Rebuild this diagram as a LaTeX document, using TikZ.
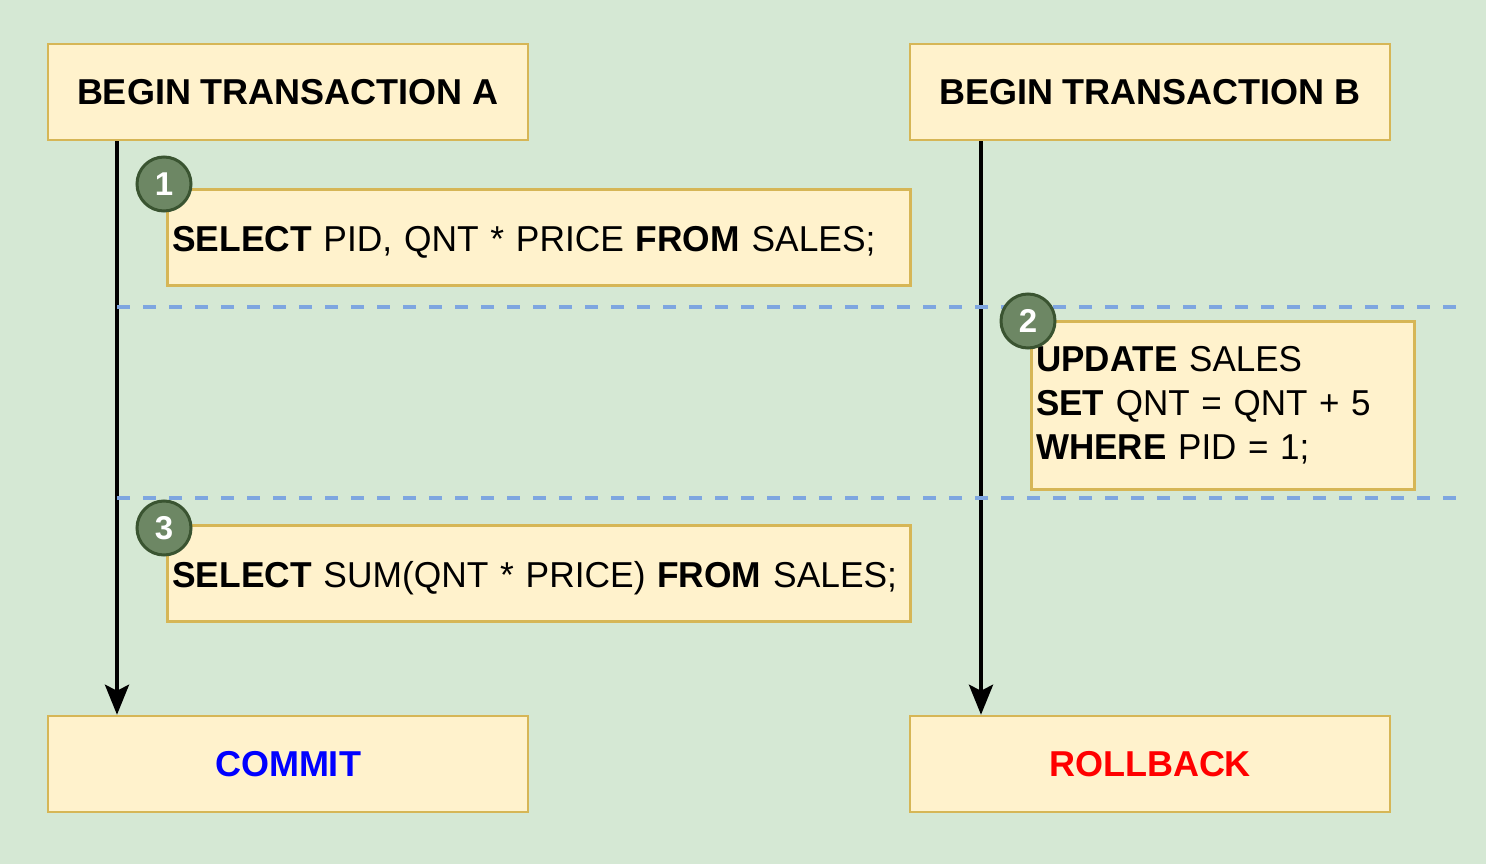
\documentclass[tikz,border=0pt]{standalone}
\usepackage{fontspec}
\setmainfont{Liberation Sans}
\usetikzlibrary{arrows.meta}
\definecolor{bg}{HTML}{D5E8D4}
\definecolor{boxfill}{HTML}{FFF2CC}
\definecolor{boxdraw}{HTML}{D6B656}
\definecolor{circfill}{HTML}{6D8764}
\definecolor{circdraw}{HTML}{3A5431}
\definecolor{dashcol}{HTML}{7EA6E0}
\newcommand\myline[1]{\raisebox{-3pt}{\scalebox{0.982}[1]{#1}}}
\newcommand\myrow[1]{\scalebox{0.972}[1]{#1}}
\begin{document}
\begin{tikzpicture}[x=1pt,y=-1pt,
  box/.style={draw=boxdraw,fill=boxfill,line width=2.5pt,inner sep=0pt,
    font=\fontsize{36}{44}\selectfont},
  txbox/.style={box,inner xsep=5pt,align=left,anchor=north west},
  badge/.style={circle,draw=circdraw,fill=circfill,line width=3pt,minimum size=54pt,
    inner sep=0pt,text=white,font=\fontsize{33}{33}\selectfont\bfseries},
  sep/.style={draw=dashcol,line width=3.5pt,dash pattern=on 13pt off 13pt},
  life/.style={line width=4pt,-{Stealth[length=30pt,width=24pt,inset=6pt]}}
]
\fill[bg] (0,0) rectangle (1486,864);
\useasboundingbox (0,0) rectangle (1486,864);

\node[box,minimum width=480pt,minimum height=96pt] (ta) at (288,92) {\bfseries BEGIN TRANSACTION A};
\node[box,minimum width=480pt,minimum height=96pt] (tb) at (1150,92) {\bfseries BEGIN TRANSACTION B};
\node[box,minimum width=480pt,minimum height=96pt] (commit) at (288,764) {\bfseries\color[HTML]{0000FF}COMMIT};
\node[box,minimum width=480pt,minimum height=96pt] (rollback) at (1150,764) {\bfseries\color[HTML]{FF0000}ROLLBACK};

\coordinate (xa) at (117,0);
\coordinate (xb) at (981,0);
\coordinate (d1l) at (117,307);
\coordinate (d1r) at (1456,307);
\coordinate (d2l) at (117,498);
\coordinate (d2r) at (1456,498);

\draw[life] (ta.south -| xa) -- (commit.north -| xa);
\draw[life] (tb.south -| xb) -- (rollback.north -| xb);

\draw[sep] (d1l) -- (d1r);
\draw[sep] (d2l) -- (d2r);

\node[txbox,text width=733pt,minimum height=96pt,text depth=0pt] (q1) at (166,188)
  {\myline{\textbf{SELECT} PID, QNT * PRICE \textbf{FROM} SALES;}};
\node[txbox,text width=373pt,minimum height=168pt] (q2) at (1030,320)
  {\myrow{\textbf{UPDATE} SALES}\\\myrow{\textbf{SET} QNT = QNT + 5}\\\myrow{\textbf{WHERE} PID = 1;}};
\node[txbox,text width=733pt,minimum height=96pt,text depth=0pt] (q3) at (166,524)
  {\myline{\textbf{SELECT} SUM(QNT * PRICE) \textbf{FROM} SALES;}};

\node[badge] (c1) at ([shift={(-2,-4)}]q1.north west) {1};
\node[badge] (c2) at ([shift={(-2,1)}]q2.north west) {2};
\node[badge] (c3) at ([shift={(-2,4)}]q3.north west) {3};
\end{tikzpicture}
\end{document}
